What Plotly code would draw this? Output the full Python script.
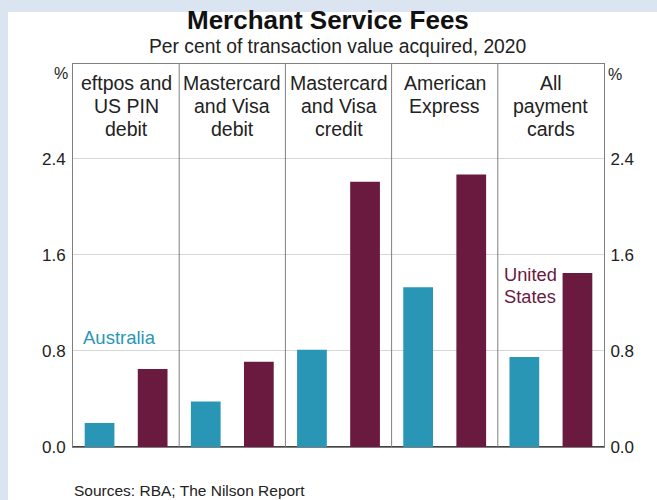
import plotly.graph_objects as go

categories = ["eftpos and<br>US PIN<br>debit", "Mastercard<br>and Visa<br>debit",
              "Mastercard<br>and Visa<br>credit", "American<br>Express", "All<br>payment<br>cards"]
australia = [0.20, 0.38, 0.81, 1.33, 0.75]
united_states = [0.65, 0.71, 2.21, 2.27, 1.45]
tick_vals = [0.0, 0.8, 1.6, 2.4]
tick_text = ["0.0", "0.8", "1.6", "2.4"]

W, H = 657, 500
ML, MR, MT, MB = 73, 53, 64, 53
PW, PH = W - ML - MR, H - MT - MB
YMAX = 3.19

TEAL = "#2a96b5"
MAROON = "#6b1a3f"
BG = "#dbe5f1"
FONT = "Arial, Liberation Sans, sans-serif"


def px_x(x):
    return (x - ML) / PW


def px_y(y):
    return (H - MB - y) / PH


xs = list(range(len(categories)))

fig = go.Figure()
fig.add_trace(go.Bar(x=xs, y=australia, name="Australia", marker_color=TEAL,
                     marker_line_width=0))
fig.add_trace(go.Bar(x=xs, y=united_states, name="United States", marker_color=MAROON,
                     marker_line_width=0))
# invisible helper so the right-hand axis is drawn
fig.add_trace(go.Scatter(x=[xs[0]], y=[tick_vals[0]], yaxis="y2", mode="markers",
                         marker=dict(opacity=0), hoverinfo="skip", showlegend=False))

shapes = [
    dict(type="rect", xref="paper", yref="paper", x0=px_x(8), x1=px_x(W + 5),
         y0=px_y(H + 5), y1=px_y(12), fillcolor="white", line_width=0, layer="below"),
]
for i in range(len(categories) - 1):
    shapes.append(dict(type="line", xref="x", yref="paper", x0=i + 0.5, x1=i + 0.5,
                       y0=0, y1=1, line=dict(color="#7f7f7f", width=1)))

annotations = [
    dict(text="<b>Merchant Service Fees</b>", xref="paper", yref="paper",
         x=px_x(328), y=px_y(20), xanchor="center", yanchor="middle", showarrow=False,
         font=dict(size=26, color="#111", family=FONT)),
    dict(text="Per cent of transaction value acquired, 2020", xref="paper", yref="paper",
         x=px_x(337), y=px_y(47), xanchor="center", yanchor="middle", showarrow=False,
         font=dict(size=19.3, color="#222", family=FONT)),
    dict(text="%", xref="paper", yref="paper", x=px_x(61), y=px_y(73),
         xanchor="center", yanchor="middle", showarrow=False,
         font=dict(size=16, color="#222", family=FONT)),
    dict(text="%", xref="paper", yref="paper", x=px_x(615), y=px_y(74),
         xanchor="center", yanchor="middle", showarrow=False,
         font=dict(size=16, color="#222", family=FONT)),
    dict(text="Sources: RBA; The Nilson Report", xref="paper", yref="paper",
         x=px_x(72), y=px_y(491), xanchor="left", yanchor="middle", showarrow=False,
         font=dict(size=15.5, color="#222", family=FONT)),
    dict(text="Australia", xref="paper", yref="paper", x=px_x(81), y=px_y(337),
         xanchor="left", yanchor="middle", showarrow=False,
         font=dict(size=18.5, color=TEAL, family=FONT)),
    dict(text="United", xref="paper", yref="paper", x=px_x(502), y=px_y(274),
         xanchor="left", yanchor="middle", showarrow=False,
         font=dict(size=18.3, color=MAROON, family=FONT)),
    dict(text="States", xref="paper", yref="paper", x=px_x(502), y=px_y(296),
         xanchor="left", yanchor="middle", showarrow=False,
         font=dict(size=18.3, color=MAROON, family=FONT)),
]
LINE_Y = [83, 106, 129]
for i, c in enumerate(categories):
    for k, line in enumerate(c.split("<br>")):
        annotations.append(dict(text=line, xref="x", yref="paper", x=i, y=px_y(LINE_Y[k]),
                                xanchor="center", yanchor="middle", showarrow=False,
                                font=dict(size=19.5, color="#222", family=FONT)))

fig.update_layout(
    width=W, height=H,
    margin=dict(l=ML, r=MR, t=MT, b=MB, pad=0),
    paper_bgcolor=BG,
    plot_bgcolor="white",
    barmode="group", bargap=0.0, bargroupgap=0.44,
    showlegend=False,
    font=dict(family=FONT, color="#222"),
    shapes=shapes,
    annotations=annotations,
    xaxis=dict(range=[-0.5, len(categories) - 0.5], showticklabels=False, showgrid=False,
               zeroline=False, showline=True, linecolor="#7f7f7f", linewidth=1, mirror=True,
               ticks="", fixedrange=True),
    yaxis=dict(range=[0, YMAX], tickvals=tick_vals, ticktext=tick_text, showgrid=True,
               gridcolor="#d6d6d6", gridwidth=1, zeroline=True, zerolinecolor="#444",
               zerolinewidth=1.5, showline=True, mirror=True, linecolor="#7f7f7f",
               linewidth=1, ticks="", ticklabelstandoff=3,
               tickfont=dict(size=17, color="#222")),
    yaxis2=dict(range=[0, YMAX], tickvals=tick_vals, ticktext=tick_text, overlaying="y",
                side="right", showgrid=False, zeroline=False, showline=True,
                linecolor="#7f7f7f", linewidth=1, ticks="", ticklabelstandoff=2,
                tickfont=dict(size=17, color="#222")),
)

fig.write_html("out.html", config={"displayModeBar": False},
               post_script="document.body.style.margin='0';"
                           "document.body.style.background='%s';" % BG)
